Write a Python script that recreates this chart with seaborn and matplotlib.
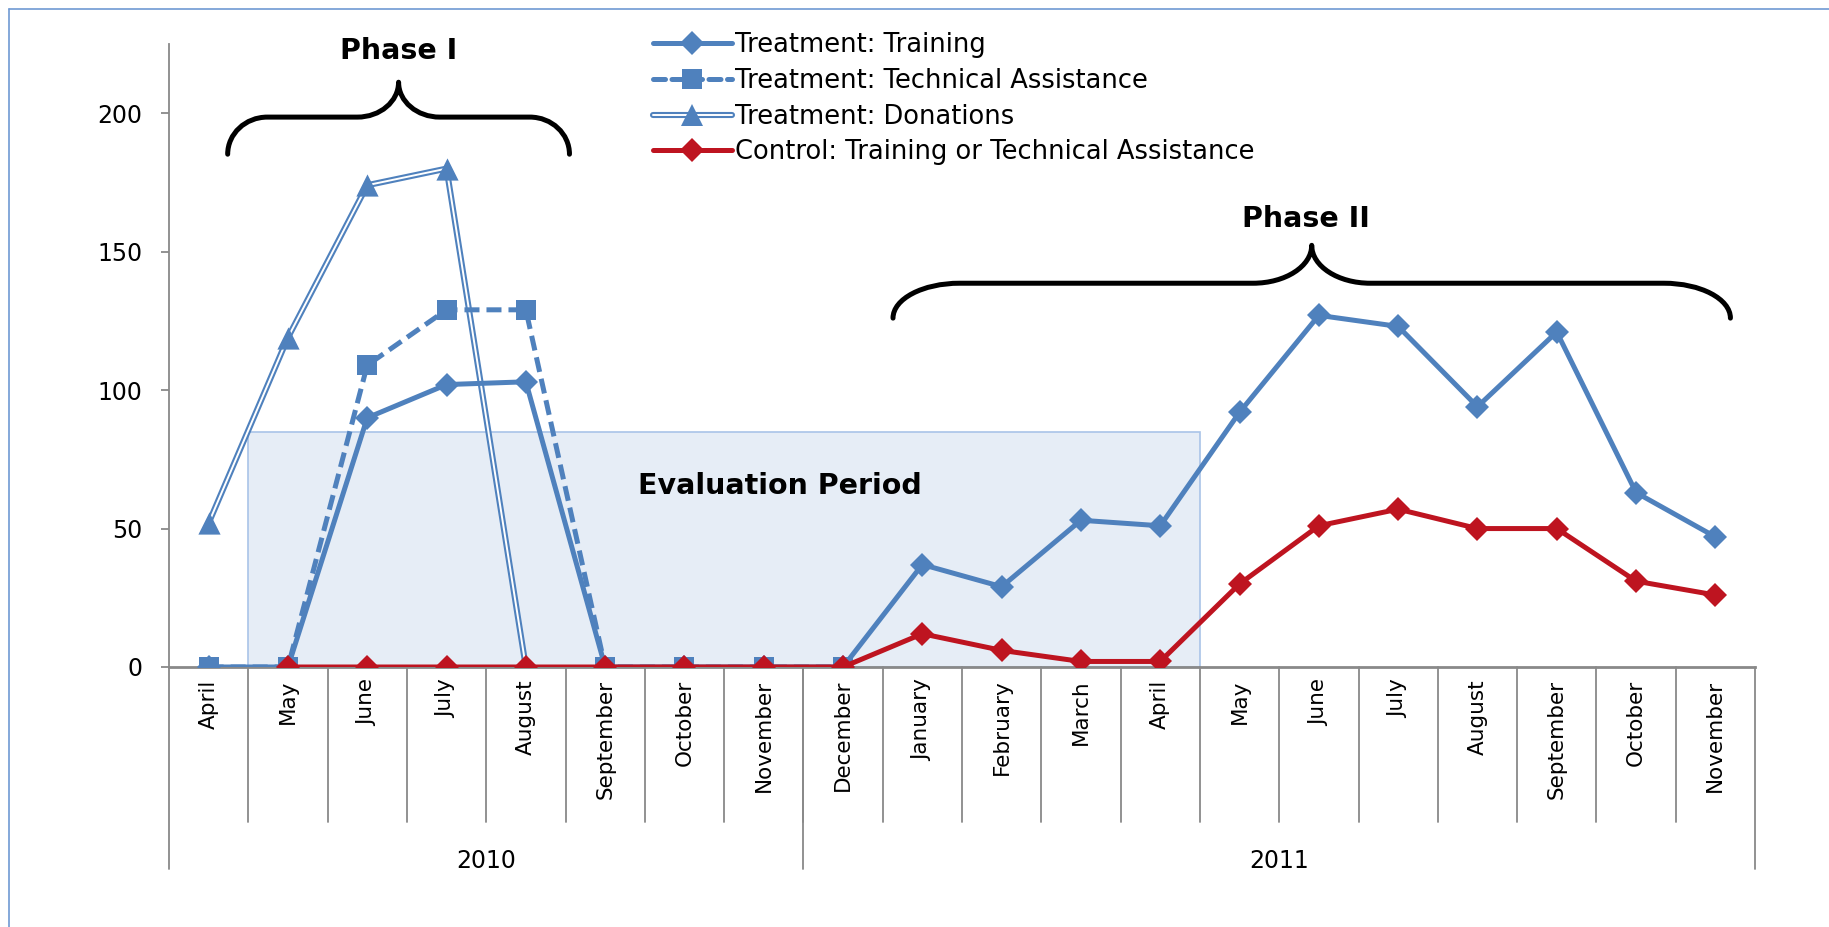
import numpy as np
import pandas as pd
import matplotlib
matplotlib.use("Agg")
import matplotlib.pyplot as plt
import matplotlib.transforms as mtransforms
import seaborn as sns
from matplotlib.path import Path
from matplotlib.patches import PathPatch, Rectangle
from matplotlib.lines import Line2D
from matplotlib.legend_handler import HandlerTuple

# data
months = ['April', 'May', 'June', 'July', 'August', 'September', 'October', 'November',
          'December', 'January', 'February', 'March', 'April', 'May', 'June', 'July',
          'August', 'September', 'October', 'November']
years = ['2010', '2011']
year_counts = [8, 12]

nan = np.nan
training = [0, 0, 90, 102, 103, 0, 0, 0, 0, 37, 29, 53, 51, 92, 127, 123, 94, 121, 63, 47]
tech_assist = [0, 0, 109, 129, 129, 0, 0, 0, 0, nan, nan, nan, nan, nan, nan, nan, nan, nan, nan, nan]
donations = [52, 119, 174, 180, 0, nan, nan, nan, nan, nan, nan, nan, nan, nan, nan, nan, nan, nan, nan, nan]
control = [nan, 0, 0, 0, 0, 0, 0, 0, 0, 12, 6, 2, 2, 30, 51, 57, 50, 50, 31, 26]

labels = ['Treatment: Training', 'Treatment: Technical Assistance',
          'Treatment: Donations', 'Control: Training or Technical Assistance']

eval_first, eval_last, eval_height = 1, 12, 85

df = pd.DataFrame({'idx': np.arange(len(months)), 'training': training,
                   'tech': tech_assist, 'donations': donations, 'control': control})

blue = '#4F81BD'
red = '#BE1420'
grey = '#898989'
dash = (0, (3.0, 1.4))

sns.set_style('white')
plt.rcParams['font.family'] = ['DejaVu Sans']
plt.rcParams['text.color'] = 'black'
plt.rcParams['xtick.labelcolor'] = 'black'
plt.rcParams['ytick.labelcolor'] = 'black'

fig = plt.figure(figsize=(18.29, 9.27), dpi=100)
ax = fig.add_axes([169 / 1829, 260 / 927, (1755 - 169) / 1829, (667 - 44) / 927])

# evaluation period box
ax.add_patch(Rectangle((eval_first - 0.5, 0), eval_last - eval_first + 1, eval_height,
                       facecolor='#E6EDF6', edgecolor='#A9C4E8', lw=1.2, zorder=0.5))

# donations: double line
sns.lineplot(data=df, x='idx', y='donations', color=blue, lw=4.4, ax=ax, zorder=2)
sns.lineplot(data=df, x='idx', y='donations', color='white', lw=1.4, ax=ax, zorder=2.1)
sns.scatterplot(data=df, x='idx', y='donations', color=blue, marker='^', s=16 ** 2,
                linewidth=0, ax=ax, zorder=2.2)

sns.lineplot(data=df, x='idx', y='tech', color=blue, lw=3.6, ls=dash,
             marker='s', markersize=15, markeredgewidth=0, markeredgecolor=blue, ax=ax, zorder=3)
sns.lineplot(data=df, x='idx', y='training', color=blue, lw=3.6,
             marker='D', markersize=12.5, markeredgewidth=0, markeredgecolor=blue, ax=ax, zorder=4)
sns.lineplot(data=df, x='idx', y='control', color=red, lw=3.6,
             marker='D', markersize=12.5, markeredgewidth=0, markeredgecolor=red, ax=ax, zorder=5)

ax.set_xlim(-0.5, len(months) - 0.5)
ax.set_ylim(0, 225)
ax.set_yticks([0, 50, 100, 150, 200])
ax.set_xticks(np.arange(len(months)))
ax.set_xticklabels(months, rotation=90, fontsize=15.5)
ax.tick_params(axis='x', length=0, pad=9)
ax.tick_params(axis='y', length=6, width=1.3, color=grey, pad=13, labelsize=17, left=True)
ax.set_xlabel('')
ax.set_ylabel('')
for side in ['top', 'right']:
    ax.spines[side].set_visible(False)
ax.spines['left'].set_color(grey)
ax.spines['left'].set_linewidth(1.3)
ax.spines['bottom'].set_color(grey)
ax.spines['bottom'].set_linewidth(2)

# category separators and year groups
trans = mtransforms.blended_transform_factory(ax.transData, ax.transAxes)
for k in range(len(months) - 1):
    ax.plot([k + 0.5, k + 0.5], [0, -0.249], color=grey, lw=1.3, transform=trans, clip_on=False)
edge = -0.5
ax.plot([edge, edge], [0, -0.324], color=grey, lw=1.3, transform=trans, clip_on=False)
for name, n in zip(years, year_counts):
    ax.plot([edge + n, edge + n], [0, -0.324], color=grey, lw=1.3, transform=trans, clip_on=False)
    ax.text(edge + n / 2, -0.311, name, transform=trans, ha='center', va='center', fontsize=17)
    edge += n


def brace(x0, x1, y_end, y_bar, y_tip, rx, rt):
    xm = (x0 + x1) / 2
    k = 0.552
    dy = y_bar - y_end
    dt = y_tip - y_bar
    verts = [(x0, y_end), (x0, y_end + k * dy), (x0 + (1 - k) * rx, y_bar), (x0 + rx, y_bar),
             (xm - rt, y_bar),
             (xm - rt + k * rt, y_bar), (xm, y_tip - k * dt), (xm, y_tip),
             (xm, y_tip - k * dt), (xm + rt - k * rt, y_bar), (xm + rt, y_bar),
             (x1 - rx, y_bar),
             (x1 - (1 - k) * rx, y_bar), (x1, y_end + k * dy), (x1, y_end)]
    codes = [Path.MOVETO, Path.CURVE4, Path.CURVE4, Path.CURVE4, Path.LINETO,
             Path.CURVE4, Path.CURVE4, Path.CURVE4, Path.CURVE4, Path.CURVE4, Path.CURVE4,
             Path.LINETO, Path.CURVE4, Path.CURVE4, Path.CURVE4]
    ax.add_patch(PathPatch(Path(verts, codes), fill=False, lw=3.6, color='black',
                           capstyle='round', joinstyle='round', clip_on=False, zorder=6))


brace(0.24, 4.55, 185.2, 198.6, 211.2, 0.5, 0.52)
brace(8.63, 19.19, 126, 138.6, 152.3, 0.84, 0.74)
ax.text(2.39, 222.5, 'Phase I', ha='center', va='center', fontsize=20.5, fontweight='bold')
ax.text(13.84, 161.7, 'Phase II', ha='center', va='center', fontsize=20.5, fontweight='bold')
ax.text(7.2, 65.3, 'Evaluation Period', ha='center', va='center', fontsize=20.5, fontweight='bold')

# legend
h_train = Line2D([], [], color=blue, lw=3.6, marker='D', ms=12.5, mew=0)
h_tech = Line2D([], [], color=blue, lw=3.6, ls=(0, (2.4, 1.3)), marker='s', ms=15, mew=0,
                solid_capstyle='round', dash_capstyle='round')
h_don = (Line2D([], [], color=blue, lw=4.4), Line2D([], [], color='white', lw=1.4),
         Line2D([], [], color=blue, ls='none', marker='^', ms=16, mew=0))
h_ctrl = Line2D([], [], color=red, lw=3.6, marker='D', ms=12.5, mew=0)
fig.legend([h_train, h_tech, h_don, h_ctrl], labels,
           handler_map={tuple: HandlerTuple(ndivide=1, pad=0)},
           loc='upper left', bbox_to_anchor=(653 / 1829, 1 - 32 / 927), frameon=False,
           fontsize=18.5, handlelength=3.07, handletextpad=0.12, labelspacing=0.38,
           borderpad=0, borderaxespad=0)

# chart border (top and left visible)
border = '#6F9AD3'
fig.add_artist(Line2D([9 / 1829, 9 / 1829], [0, 1 - 9 / 927], color=border, lw=1.2))
fig.add_artist(Line2D([9 / 1829, 1], [1 - 9 / 927, 1 - 9 / 927], color=border, lw=1.2))

plt.savefig('out.png', dpi=100)
